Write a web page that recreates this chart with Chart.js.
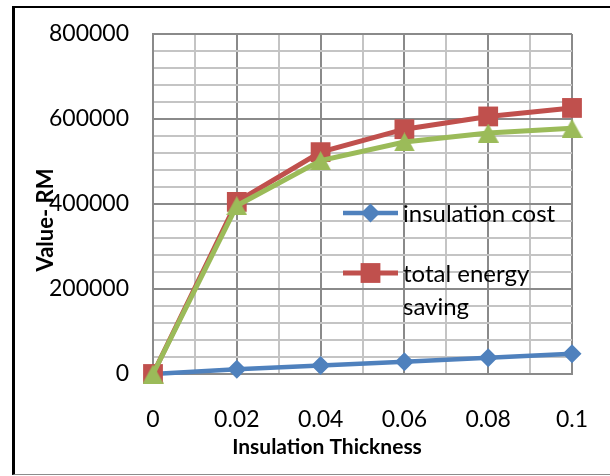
<!DOCTYPE html>
<html><head><meta charset="utf-8">
<script src="https://cdn.jsdelivr.net/npm/chart.js@4/dist/chart.umd.min.js"></script>
<style>
html,body{margin:0;padding:0;background:#fff;overflow:hidden}
#wrap{position:relative;width:610px;height:476px;overflow:hidden}
#frame{position:absolute;left:12px;top:6px;width:640px;height:469px;border-left:3px solid #000;border-top:2px solid #000;border-bottom:1px solid #8c8c8c;box-sizing:border-box}
canvas{position:absolute;left:0;top:0}
</style></head>
<body><div id="wrap"><div id="frame"></div><canvas id="c" width="610" height="476"></canvas></div>
<script>
// Insulation thickness (m) against cost and savings (RM)
const thickness = [0, 0.02, 0.04, 0.06, 0.08, 0.1];
const insulationCost = [0, 11000, 20000, 29000, 38000, 47500];
const totalEnergySaving = [0, 405000, 522000, 576000, 606000, 626000];
const netSaving = [0, 396000, 502000, 546000, 567000, 578000];
const xTickLabels = ['0', '0.02', '0.04', '0.06', '0.08', '0.1'];
const yTickLabels = ['0', '200000', '400000', '600000', '800000'];

const BLUE = '#4F81BD', RED = '#C0504D', GREEN = '#9BBB59';
const GRID_MAJOR = '#8a8a8a', GRID_MINOR = '#c4c4c4';
const FONT = 'Lato';

// triangle marker centred on its bounding box
const tri = document.createElement('canvas');
tri.width = 21; tri.height = 19;
(function () {
  const t = tri.getContext('2d');
  t.fillStyle = GREEN;
  t.beginPath(); t.moveTo(10.5, 0); t.lineTo(21, 19); t.lineTo(0, 19); t.closePath(); t.fill();
})();

const pts = vals => thickness.map((x, i) => ({ x: x, y: vals[i] }));

const titles = {
  id: 'axisTitles',
  afterDraw(chart) {
    const ctx = chart.ctx;
    ctx.save();
    ctx.fillStyle = '#000';
    ctx.font = 'bold 21px ' + FONT;
    ctx.textAlign = 'center';
    ctx.textBaseline = 'alphabetic';
    ctx.fillText('Insulation Thickness', 327, 454);
    ctx.translate(53, 220);
    ctx.rotate(-Math.PI / 2);
    ctx.font = 'bold 22px ' + FONT;
    ctx.fillText('Value- RM', 0, 0);
    ctx.restore();
  }
};

// legend drawn inside the plot for the first two series
const innerLegend = {
  id: 'innerLegend',
  afterDraw(chart) {
    const ctx = chart.ctx;
    const rows = [213, 273];
    const maxW = 170, lineGap = 33;
    ctx.save();
    [0, 1].forEach((di, k) => {
      const ds = chart.data.datasets[di];
      const y = rows[k];
      ctx.strokeStyle = ds.borderColor;
      ctx.lineWidth = ds.borderWidth;
      ctx.beginPath(); ctx.moveTo(343, y); ctx.lineTo(398, y); ctx.stroke();
      ctx.fillStyle = ds.pointBackgroundColor;
      Chart.helpers.drawPoint(ctx, { pointStyle: ds.pointStyle, radius: ds.pointRadius, rotation: 0, borderWidth: 0 }, 370.5, y);
      ctx.fillStyle = '#000';
      ctx.font = '24px ' + FONT;
      ctx.textAlign = 'left';
      ctx.textBaseline = 'middle';
      const words = ds.label.split(' ');
      const lines = [];
      let cur = '';
      words.forEach(w => {
        const test = cur ? cur + ' ' + w : w;
        if (cur && ctx.measureText(test).width > maxW) { lines.push(cur); cur = w; } else cur = test;
      });
      lines.push(cur);
      lines.forEach((ln, j) => ctx.fillText(ln, 403, y + 1 + j * lineGap));
    });
    ctx.restore();
  }
};

new Chart(document.getElementById('c'), {
  type: 'line',
  data: {
    datasets: [
      { label: 'insulation cost', data: pts(insulationCost), borderColor: BLUE, backgroundColor: BLUE,
        pointBackgroundColor: BLUE, pointBorderColor: BLUE, pointStyle: 'rectRot', pointRadius: 9.5,
        borderWidth: 4.5, pointBorderWidth: 0, order: 2, clip: false },
      { label: 'total energy saving', data: pts(totalEnergySaving), borderColor: RED, backgroundColor: RED,
        pointBackgroundColor: RED, pointBorderColor: RED, pointStyle: 'rect', pointRadius: 14,
        borderWidth: 5, pointBorderWidth: 0, order: 1, clip: false },
      { label: 'net saving', data: pts(netSaving), borderColor: GREEN, backgroundColor: GREEN,
        pointBackgroundColor: GREEN, pointBorderColor: GREEN, pointStyle: tri, pointRadius: 10,
        borderWidth: 5, pointBorderWidth: 0, order: 0, clip: false }
    ]
  },
  options: {
    responsive: false,
    animation: false,
    devicePixelRatio: 1,
    layout: { padding: { top: 34, right: 38, left: 0, bottom: 0 } },
    plugins: { legend: { display: false }, tooltip: { enabled: false } },
    elements: { line: { tension: 0 } },
    scales: {
      x: {
        type: 'linear', min: 0, max: 0.1,
        afterBuildTicks: s => { s.ticks = Array.from({ length: 11 }, (_, i) => ({ value: i / 100 })); },
        afterFit: s => { s.height = 102; s.paddingLeft = 0; s.paddingRight = 0; },
        ticks: {
          autoSkip: false, maxRotation: 0, padding: 32, color: '#000', font: { family: FONT, size: 23 },
          callback: v => { const i = Math.round(v * 100); return i % 2 === 0 ? xTickLabels[i / 2] : ''; }
        },
        grid: {
          drawTicks: false, lineWidth: 2,
          color: c => (c.tick && Math.round(c.tick.value * 100) % 2 === 0) ? GRID_MAJOR : GRID_MINOR
        },
        border: { display: true, color: GRID_MAJOR, width: 2 }
      },
      y: {
        type: 'linear', min: 0, max: 800000,
        afterBuildTicks: s => { s.ticks = Array.from({ length: 21 }, (_, i) => ({ value: i * 40000 })); },
        afterFit: s => { s.width = 153; s.paddingTop = 0; s.paddingBottom = 0; },
        ticks: {
          autoSkip: false, padding: 24, color: '#000', font: { family: FONT, size: 23 },
          callback: v => v % 200000 === 0 ? yTickLabels[v / 200000] : ''
        },
        grid: {
          drawTicks: false, lineWidth: 2,
          color: c => (c.tick && c.tick.value % 200000 === 0) ? GRID_MAJOR : GRID_MINOR
        },
        border: { display: true, color: GRID_MAJOR, width: 2 }
      }
    }
  },
  plugins: [titles, innerLegend]
});
</script>
</body></html>
